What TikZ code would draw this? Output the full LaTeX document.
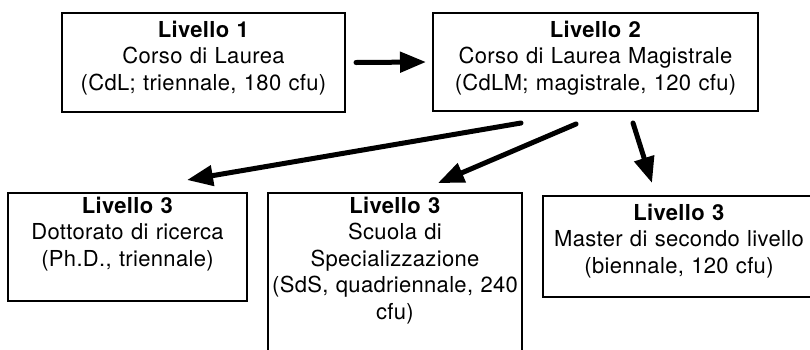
\documentclass[tikz,border=0pt]{standalone}
\usepackage{fontspec}
\setmainfont[LetterSpace=1.5]{TeX Gyre Heros}
\usetikzlibrary{arrows.meta}

\begin{document}
\begin{tikzpicture}[x=1pt, y=-1pt]
	\tikzstyle{level}=[rectangle, draw=black, line width=2pt, anchor=north, align=center, inner xsep=0pt, inner ysep=9pt, text height=15pt, font=\fontsize{22}{26.5}\selectfont]
	\tikzstyle{connect}=[-{Triangle[length=26pt, width=20pt]}, line width=5pt, line cap=round]
	\useasboundingbox (0,0) rectangle (810,349);
	\clip (0,0) rectangle (810,349);
	\node[level, text width=283pt, text depth=66pt] (lev1) at (203.5,12) {\textbf{Livello 1}\\Corso di Laurea\\(CdL; triennale, 180 cfu)};
	\node[level, text width=325pt, text depth=65pt] (lev2) at (595.5,12) {\textbf{Livello 2}\\Corso di Laurea Magistrale\\(CdLM; magistrale, 120 cfu)};
	\node[level, text width=239pt, inner ysep=5pt, text depth=83pt] (phd) at (127.5,192) {\textbf{Livello 3}\\Dottorato di ricerca\\(Ph.D., triennale)};
	\node[level, text width=254pt, inner ysep=5pt, text depth=150pt] (sds) at (395,192) {\textbf{Livello 3}\\Scuola di\\Specializzazione\\(SdS, quadriennale, 240\\cfu)};
	\node[level, text width=272pt, text depth=68pt] (master) at (679,195) {\textbf{Livello 3}\\Master di secondo livello\\(biennale, 120 cfu)};
	\path ([xshift=10pt]lev1.east) edge [connect] ([xshift=-6pt]lev2.west)
	([xshift=-74.5pt, yshift=-11pt]lev2.south) edge [connect] ([xshift=59.5pt, yshift=12pt]phd.north)
	([xshift=-19.5pt, yshift=-12pt]lev2.south) edge [connect] ([xshift=43pt, yshift=9pt]sds.north)
	([xshift=37.5pt, yshift=-11pt]lev2.south) edge [connect] ([xshift=-27pt, yshift=12pt]master.north);
\end{tikzpicture}
\end{document}
